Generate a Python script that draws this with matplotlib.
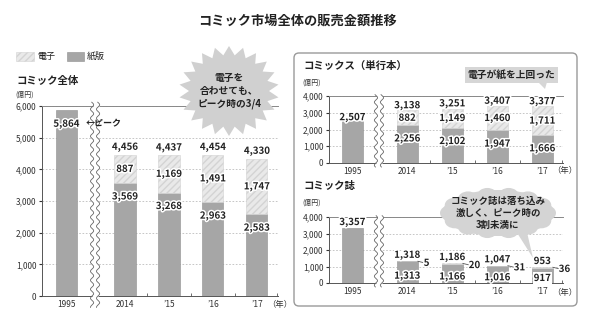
import numpy as np
import matplotlib
matplotlib.use('Agg')
import matplotlib.pyplot as plt
from matplotlib import patheffects as pe
from matplotlib.patches import FancyBboxPatch, Polygon, Ellipse, Circle, Rectangle

plt.rcParams['font.family'] = ['Noto Sans CJK JP', 'DejaVu Sans']

# ---------------- data ----------------
years = ['1995', '2014', '’15', '’16', '’17']
total_paper = [5864, 3569, 3268, 2963, 2583]
total_digital = [0, 887, 1169, 1491, 1747]
comics_paper = [2507, 2256, 2102, 1947, 1666]
comics_digital = [0, 882, 1149, 1460, 1711]
mag_paper = [3357, 1313, 1166, 1016, 917]
mag_digital = [0, 5, 20, 31, 36]

title = 'コミック市場全体の販売金額推移'
legend_labels = ['電子', '紙版']
panel_titles = ['コミック全体', 'コミックス（単行本）', 'コミック誌']
unit = '(億円)'
year_suffix = '（年）'
note_total = '電子を\n合わせても、\nピーク時の3/4'
note_comics = '電子が紙を上回った'
note_mag = 'コミック誌は落ち込み\n激しく、ピーク時の\n3割未満に'
peak_label = '←ピーク'

# ---------------- style ----------------
W, H = 590, 320
PAPER = '#a6a6a6'
DIG = '#e9e9e9'
DIG_HATCH = '#d3d3d3'
TXT = '#222222'
fig = plt.figure(figsize=(W / 100, H / 100), dpi=100)


def px_axes(l, t, r, b):
    return fig.add_axes([l / W, 1 - b / H, (r - l) / W, (b - t) / H])


def lab(ax, x, y, s, size=7, ha='center', bbox=None):
    t = ax.text(x, y, s, ha=ha, va='center', fontsize=size, fontweight='bold',
                color=TXT, zorder=8, bbox=bbox)
    t.set_path_effects([pe.withStroke(linewidth=2.2, foreground='white')])
    return t


def panel(ax, paper, digital, ymax, gap, xlim, brk, width):
    paper = np.array(paper)
    digital = np.array(digital)
    pos = np.array([0.0] + [gap + i for i in range(len(paper) - 1)])
    ax.bar(pos, paper, width=width, color=PAPER, edgecolor='#8f8f8f', lw=0.4, zorder=2)
    m = digital > 0
    ax.bar(pos[m], digital[m], bottom=paper[m], width=width, color=DIG,
           edgecolor=DIG_HATCH, hatch='/////', lw=0.4, zorder=2)
    ax.set_xlim(*xlim)
    ax.set_ylim(0, ymax)
    ax.set_yticks(np.arange(0, ymax + 1, 1000))
    ax.set_yticklabels([f'{v:,}' for v in np.arange(0, ymax + 1, 1000)])
    ax.yaxis.grid(True, ls=(0, (2, 2)), color='#bdbdbd', lw=0.6, zorder=0)
    ax.set_axisbelow(True)
    for s in ['left', 'bottom']:
        ax.spines[s].set_color('#555555')
        ax.spines[s].set_linewidth(0.7)
    ax.spines['top'].set_color('#888888')
    ax.spines['top'].set_linewidth(0.7)
    ax.spines['right'].set_visible(False)
    ax.set_xticks(pos)
    ax.set_xticklabels(years)
    mids = list((pos[1:-1] + pos[2:]) / 2) + [xlim[1] - 0.03]
    ax.set_xticks(mids, minor=True)
    ax.tick_params(axis='x', which='major', length=0, labelsize=6, pad=3, colors='#333333')
    ax.tick_params(axis='x', which='minor', length=2.5, direction='in', color='#555555')
    ax.tick_params(axis='y', length=2, labelsize=6, pad=2, colors='#333333')
    # axis break
    bb = ax.get_window_extent()
    yy = np.linspace(-ymax * 0.06, ymax * 1.02, 300)
    period = ymax * 9 / bb.height
    amp = 1.6 * (xlim[1] - xlim[0]) / bb.width
    half = 3.0 * (xlim[1] - xlim[0]) / bb.width
    xx = brk + amp * np.sin(2 * np.pi * yy / period)
    ax.fill_betweenx(yy, xx - half, xx + half, color='white', zorder=6, clip_on=False, lw=0)
    ax.plot(xx - half, yy, color='#666666', lw=0.6, zorder=7, clip_on=False)
    ax.plot(xx + half, yy, color='#666666', lw=0.6, zorder=7, clip_on=False)
    return pos


# ---------- left: whole market ----------
axL = px_axes(42, 106, 278, 296)
posL = panel(axL, total_paper, total_digital, 6000, 1.33, (-0.557, 4.81), 0.65, 0.48)
totL = np.array(total_paper) + np.array(total_digital)
lab(axL, posL[0], total_paper[0] - 430, f'{total_paper[0]:,}')
axL.text(posL[0] + 0.43, total_paper[0] - 430, peak_label, ha='left', va='center',
         fontsize=6.5, fontweight='bold', color=TXT, zorder=8)
for i in range(1, 5):
    lab(axL, posL[i], totL[i] + 250, f'{totL[i]:,}')
    lab(axL, posL[i], total_paper[i] + total_digital[i] / 2, f'{total_digital[i]:,}')
    lab(axL, posL[i], total_paper[i] - 430, f'{total_paper[i]:,}')

# ---------- right top: comics ----------
axC = px_axes(329, 96, 563, 163)
posC = panel(axC, comics_paper, comics_digital, 4000, 1.22, (-0.52, 4.68), 0.59, 0.47)
totC = np.array(comics_paper) + np.array(comics_digital)
lab(axC, posC[0], comics_paper[0] + 220, f'{comics_paper[0]:,}')
for i in range(1, 5):
    lab(axC, posC[i], totC[i] + 300, f'{totC[i]:,}')
    lab(axC, posC[i], comics_paper[i] + comics_digital[i] / 2, f'{comics_digital[i]:,}')
    lab(axC, posC[i], comics_paper[i] - 800, f'{comics_paper[i]:,}')

# ---------- right bottom: magazines ----------
axM = px_axes(329, 217, 563, 283)
posM = panel(axM, mag_paper, mag_digital, 4000, 1.22, (-0.52, 4.68), 0.59, 0.47)
totM = np.array(mag_paper) + np.array(mag_digital)
lab(axM, posM[0], mag_paper[0] + 330, f'{mag_paper[0]:,}')
for i in range(1, 5):
    lab(axM, posM[i], totM[i] + 380, f'{totM[i]:,}')
    bbox = dict(boxstyle='square,pad=0.1', fc='white', ec='none') if i == 4 else None
    lab(axM, posM[i], mag_paper[i] * 0.33, f'{mag_paper[i]:,}', bbox=bbox)
    x0 = posM[i] + 0.235
    axM.plot([x0, x0 + 0.12], [totM[i], totM[i] - 80], color='#555555', lw=0.6,
             zorder=7, clip_on=False)
    lab(axM, x0 + 0.13, totM[i] - 100, f'{mag_digital[i]:,}', ha='left')

# ---------- overlay (pixel coordinates) ----------
ov = fig.add_axes([0, 0, 1, 1], zorder=20)
ov.set_xlim(0, W)
ov.set_ylim(H, 0)
ov.axis('off')
ov.patch.set_alpha(0)

ov.text(297, 21, title, ha='center', va='center', fontsize=9.5, fontweight='bold', color=TXT)

# year suffixes
for (x, y) in [(267, 304), (552, 171), (552, 292)]:
    ov.text(x, y, year_suffix, ha='left', va='center', fontsize=6, color='#333333')

# legend
ov.add_patch(Rectangle((16, 52), 18, 9, fc=DIG, ec=DIG_HATCH, hatch='/////', lw=0.4))
ov.text(37, 56.5, legend_labels[0], ha='left', va='center', fontsize=6.5, color=TXT)
ov.add_patch(Rectangle((67, 52), 17, 9, fc=PAPER, ec='#8f8f8f', lw=0.4))
ov.text(87, 56.5, legend_labels[1], ha='left', va='center', fontsize=6.5, color=TXT)

ov.text(16, 81, panel_titles[0], ha='left', va='center', fontsize=7.5, fontweight='bold', color=TXT)
ov.text(15, 95, unit, ha='left', va='center', fontsize=5, color='#333333')

# right box
ov.add_patch(FancyBboxPatch((294, 53), 283, 253, boxstyle='round,pad=0,rounding_size=5',
                            fc='none', ec='#9a9a9a', lw=1.0))
ov.text(303, 66, panel_titles[1], ha='left', va='center', fontsize=7.5, fontweight='bold', color=TXT)
ov.text(302, 83, unit, ha='left', va='center', fontsize=5, color='#333333')
ov.text(303, 186, panel_titles[2], ha='left', va='center', fontsize=7.5, fontweight='bold', color=TXT)
ov.text(302, 203, unit, ha='left', va='center', fontsize=5, color='#333333')

# starburst
n = 22
ang = np.linspace(0, 2 * np.pi, 2 * n, endpoint=False) + np.pi / 2
rad_x = np.where(np.arange(2 * n) % 2 == 0, 50, 40)
rad_y = np.where(np.arange(2 * n) % 2 == 0, 45, 36)
cx, cy = 229, 91
star = np.column_stack([cx + rad_x * np.cos(ang), cy + rad_y * np.sin(ang)])
ov.add_patch(Polygon(star, closed=True, fc='#d0d0d0', ec='none'))
ov.text(cx, cy, note_total, ha='center', va='center', fontsize=7, fontweight='bold',
        color=TXT, linespacing=1.35)

# callout top right
ov.add_patch(Rectangle((465, 67), 93, 16, fc='#d6d6d6', ec='none'))
ov.add_patch(Polygon([(538, 82), (547, 82), (545, 89)], closed=True, fc='#d6d6d6', ec='none'))
ov.text(511.5, 75, note_comics, ha='center', va='center', fontsize=7, fontweight='bold', color=TXT)

# cloud bottom right
ccx, ccy = 498, 213
ov.add_patch(Ellipse((ccx, ccy), 112, 46, fc='#d4d4d4', ec='none'))
for a in np.linspace(0, 2 * np.pi, 14, endpoint=False):
    ov.add_patch(Ellipse((ccx + 48 * np.cos(a), ccy + 18 * np.sin(a)), 20, 15,
                         fc='#d4d4d4', ec='none'))
ov.add_patch(Polygon([(514, 228), (526, 228), (533, 258)], closed=True, fc='#d4d4d4', ec='none'))
ov.text(ccx, ccy, note_mag, ha='center', va='center', fontsize=6.8, fontweight='bold',
        color=TXT, linespacing=1.3)

fig.savefig('out.png', dpi=100)
